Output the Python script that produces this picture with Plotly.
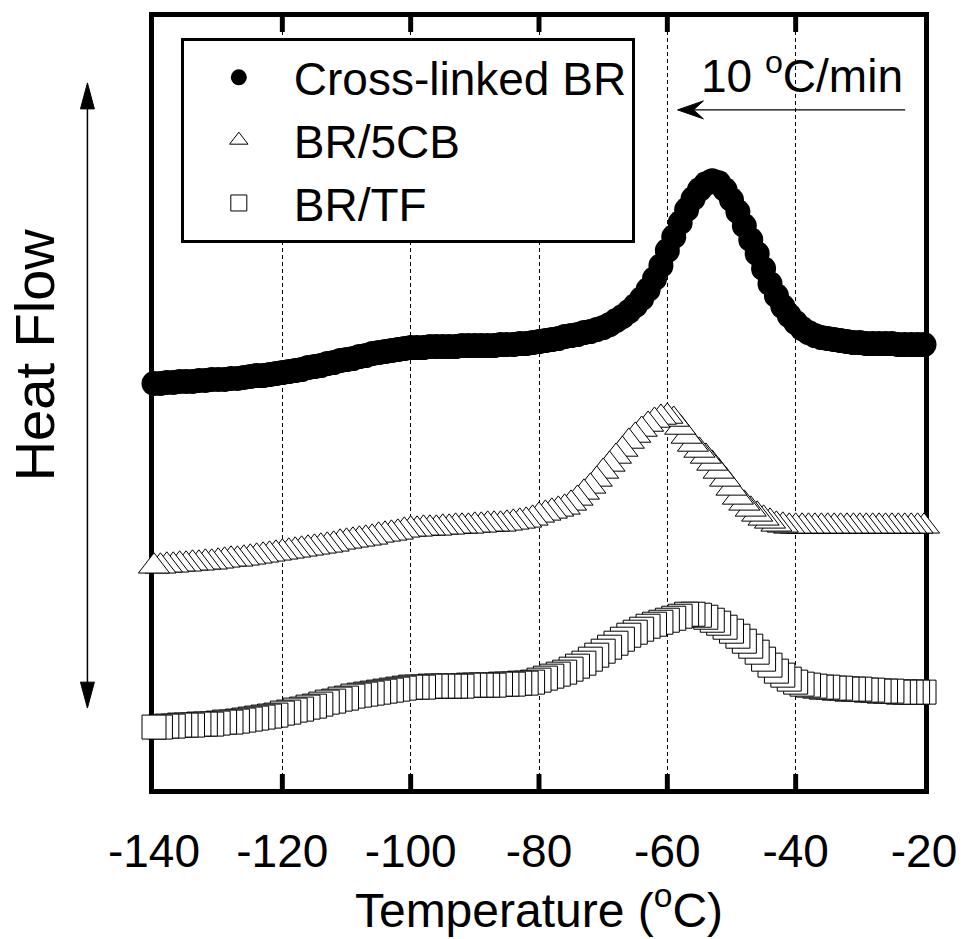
import plotly.graph_objects as go

# ---------------- data ----------------
# Temperature grid, degC (1 degC sampling)
TEMPERATURE = list(range(-140, -19))

# Heat flow, arbitrary units (offset curves), listed from -140 to -20 degC
CROSSLINKED_BR = [
    409, 409, 410, 410, 411, 411, 411, 412, 412, 413, 413,   # -140..-130
    413, 414, 414, 415, 416, 417, 417, 418, 419, 420,        # -129..-120
    421, 422, 423, 425, 426, 427, 429, 430, 432, 433,        # -119..-110
    434, 436, 437, 439, 440, 441, 442, 443, 444, 445,        # -109..-100
    445, 445, 446, 446, 446, 446, 446, 447, 447, 447,        # -99..-90
    447, 447, 447, 448, 448, 448, 449, 449, 450, 451,        # -89..-80
    452, 453, 454, 456, 457, 458, 460, 461, 463, 465,        # -79..-70
    468, 472, 476, 481, 487, 494, 503, 514, 527, 542,        # -69..-60
    556, 570, 583, 594, 603, 609, 612, 610, 603, 593,        # -59..-50
    581, 567, 553, 539, 524, 509, 497, 486, 477, 470,        # -49..-40
    464, 460, 457, 455, 454, 453, 452, 451, 450, 450,        # -39..-30
    449, 449, 449, 449, 449, 448, 448, 448, 448, 448,        # -29..-20
]

BR_5CB = [
    226, 226, 227, 227, 228, 228, 229, 229, 230, 230, 231,   # -140..-130
    232, 233, 233, 234, 235, 236, 237, 238, 239, 240,        # -129..-120
    241, 242, 243, 244, 245, 246, 247, 248, 250, 251,        # -119..-110
    252, 253, 254, 255, 257, 258, 259, 260, 262, 263,        # -109..-100
    263, 264, 264, 264, 265, 265, 266, 266, 266, 267,        # -99..-90
    267, 268, 268, 268, 269, 270, 271, 272, 274, 277,        # -89..-80
    279, 281, 283, 285, 289, 294, 300, 306, 313, 321,        # -79..-70
    328, 336, 343, 351, 357, 363, 368, 372, 375, 376,        # -69..-60
    373, 365, 356, 348, 342, 336, 329, 321, 313, 304,        # -59..-50
    295, 289, 283, 278, 274, 271, 268, 267, 266, 266,        # -49..-40
    266, 266, 266, 266, 266, 266, 266, 266, 266, 266,        # -39..-30
    266, 266, 266, 266, 266, 266, 266, 266, 266, 266,        # -29..-20
]

BR_TF = [
    65, 65, 66, 66, 67, 67, 67, 68, 68, 68, 69,              # -140..-130
    70, 70, 71, 72, 73, 74, 75, 76, 77, 79,                  # -129..-120
    80, 82, 83, 85, 86, 88, 90, 91, 93, 94,                  # -119..-110
    96, 97, 98, 99, 100, 101, 102, 103, 104, 105,            # -109..-100
    105, 105, 106, 106, 106, 106, 106, 106, 107, 107,        # -99..-90
    107, 107, 107, 108, 108, 108, 109, 109, 110, 112,        # -89..-80
    114, 116, 118, 120, 123, 126, 129, 133, 137, 141,        # -79..-70
    145, 149, 153, 157, 160, 163, 166, 168, 170, 172,        # -69..-60
    174, 176, 178, 178, 177, 175, 172, 169, 165, 161,        # -59..-50
    156, 151, 146, 140, 133, 127, 121, 117, 113, 110,        # -49..-40
    108, 107, 106, 105, 105, 104, 104, 103, 103, 103,        # -39..-30
    102, 102, 101, 101, 101, 100, 100, 100, 100, 100,        # -29..-20
]

SERIES_NAMES = ["Cross-linked BR", "BR/5CB", "BR/TF"]
X_TICKS = [-140, -120, -100, -80, -60, -40, -20]
X_TICK_LABELS = ["-140", "-120", "-100", "-80", "-60", "-40", "-20"]
X_RANGE = [-140, -20]

assert len(CROSSLINKED_BR) == len(BR_5CB) == len(BR_TF) == len(TEMPERATURE)

# ---------------- layout geometry ----------------
W, H = 969, 939
ML, MR, MT, MB = 154, 40, 16, 150
PW, PH = W - ML - MR, H - MT - MB
FONT = "Liberation Sans, Arial, Helvetica, sans-serif"
TICK_LEN, TICK_W = 15, 5


def fx(x):  # pixel -> paper x
    return (x - ML) / PW


def fy(y):  # pixel -> paper y
    return (H - MB - y) / PH


fig = go.Figure()

markers = [
    dict(symbol="circle", size=25, color="black", line=dict(width=0)),
    dict(symbol="triangle-up", size=27, color="white", line=dict(color="black", width=1)),
    dict(symbol="square", size=24, color="white", line=dict(color="black", width=1)),
]

# data recorded on cooling (-20 -> -140): draw in that order
for name, vals, mk in zip(SERIES_NAMES, [CROSSLINKED_BR, BR_5CB, BR_TF], markers):
    fig.add_trace(go.Scatter(
        x=TEMPERATURE[::-1], y=vals[::-1], mode="markers", name=name,
        marker=mk, cliponaxis=False,
    ))

# ---------------- decorations ----------------
shapes = []
# thick inward tick marks on bottom and top frame, placed at the x tick values
for t in X_TICKS[1:-1]:
    xc = (t - X_RANGE[0]) / (X_RANGE[1] - X_RANGE[0])   # paper position of tick
    hw = TICK_W / 2 / PW
    for y0, y1 in [(0, TICK_LEN / PH), (1 - TICK_LEN / PH, 1)]:
        shapes.append(dict(type="rect", xref="paper", yref="paper", layer="above",
                           x0=xc - hw, x1=xc + hw, y0=y0, y1=y1,
                           fillcolor="black", line=dict(width=0)))

shapes += [
    # vertical double arrow (Heat Flow)
    dict(type="line", xref="paper", yref="paper", x0=fx(87), x1=fx(87),
         y0=fy(100), y1=fy(690), line=dict(color="black", width=1.5)),
    dict(type="path", xref="paper", yref="paper",
         path=f"M {fx(87)},{fy(82)} L {fx(80)},{fy(108)} L {fx(94)},{fy(108)} Z",
         fillcolor="black", line=dict(color="black", width=1)),
    dict(type="path", xref="paper", yref="paper",
         path=f"M {fx(87)},{fy(708)} L {fx(80)},{fy(682)} L {fx(94)},{fy(682)} Z",
         fillcolor="black", line=dict(color="black", width=1)),
    # cooling-direction arrow
    dict(type="line", xref="paper", yref="paper", x0=fx(910), x1=fx(690),
         y0=fy(109), y1=fy(109), line=dict(color="black", width=1.2)),
    dict(type="path", xref="paper", yref="paper",
         path=f"M {fx(681)},{fy(109)} L {fx(707)},{fy(100)} L {fx(697)},{fy(109)} L {fx(707)},{fy(118)} Z",
         fillcolor="black", line=dict(color="black", width=1)),
]

annotations = [
    dict(text="Heat Flow", xref="paper", yref="paper", x=fx(34), y=fy(354),
         textangle=-90, showarrow=False, xanchor="center", yanchor="middle",
         font=dict(family=FONT, size=56, color="black")),
    dict(text="10 <sup>o</sup>C/min", xref="paper", yref="paper", x=fx(806), y=fy(72),
         showarrow=False, xanchor="center", yanchor="middle",
         font=dict(family=FONT, size=46, color="black")),
]

fig.update_layout(
    width=W, height=H,
    margin=dict(l=ML, r=MR, t=MT, b=MB, pad=0),
    paper_bgcolor="white", plot_bgcolor="white",
    font=dict(family=FONT, color="black"),
    showlegend=True,
    legend=dict(
        x=fx(181), y=fy(37), xanchor="left", yanchor="top",
        bgcolor="white", bordercolor="black", borderwidth=3,
        font=dict(family=FONT, size=46, color="black"),
        itemsizing="trace", itemwidth=100,
    ),
    shapes=shapes,
    annotations=annotations,
    xaxis=dict(
        range=X_RANGE, tickvals=X_TICKS, ticktext=X_TICK_LABELS,
        ticks="", showline=True, linewidth=5, linecolor="black", mirror=True,
        showgrid=True, gridcolor="black", gridwidth=1, griddash="4px,3px",
        zeroline=False, layer="above traces", ticklabelstandoff=18,
        tickfont=dict(family=FONT, size=46, color="black"),
        title=dict(text="Temperature (<sup>o</sup>C)", standoff=0,
                   font=dict(family=FONT, size=48, color="black")),
    ),
    yaxis=dict(
        range=[3, 776], showticklabels=False, ticks="",
        showline=True, linewidth=5, linecolor="black", mirror=True,
        showgrid=False, zeroline=False, layer="below traces",
    ),
)

fig.write_html("out.html")
